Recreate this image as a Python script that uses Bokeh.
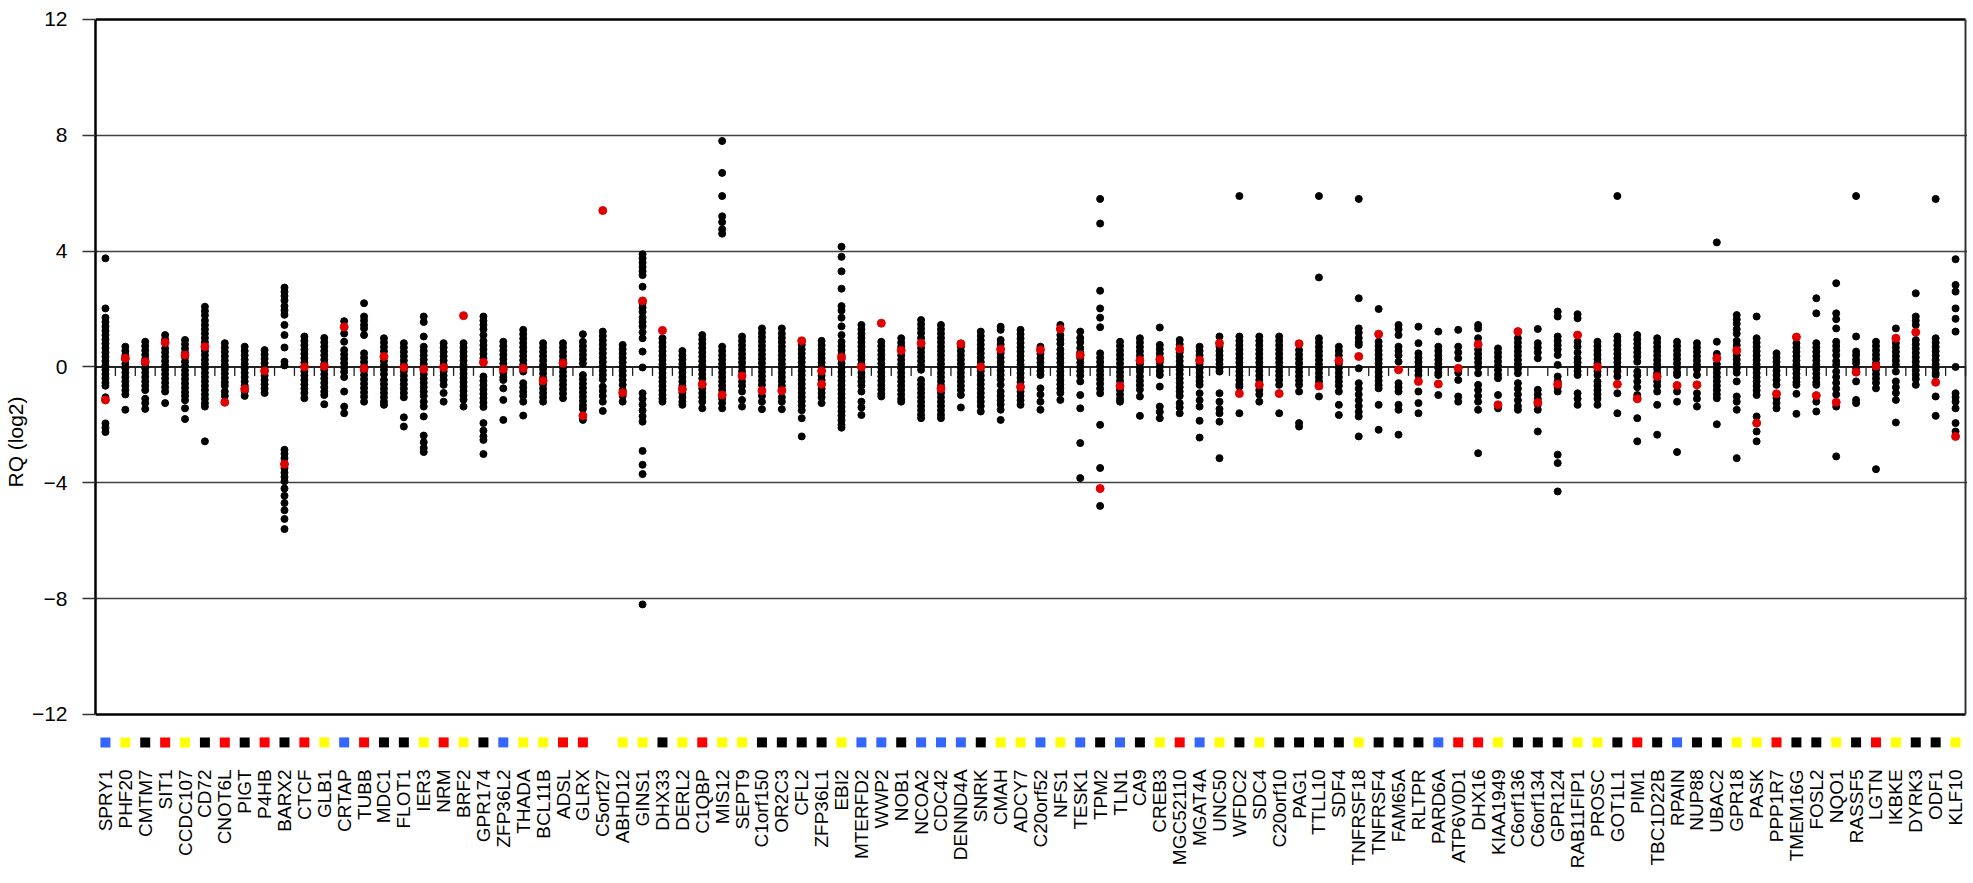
import math
from bokeh.plotting import figure
from bokeh.models import Range1d, FixedTicker
from bokeh.core.properties import value
from bokeh.embed import file_html
from bokeh.resources import INLINE

genes = ["SPRY1", "PHF20", "CMTM7", "SIT1", "CCDC107", "CD72", "CNOT6L", "PIGT", "P4HB", "BARX2",
         "CTCF", "GLB1", "CRTAP", "TUBB", "MDC1", "FLOT1", "IER3", "NRM", "BRF2", "GPR174",
         "ZFP36L2", "THADA", "BCL11B", "ADSL", "GLRX", "C5orf27", "ABHD12", "GINS1", "DHX33", "DERL2",
         "C1QBP", "MIS12", "SEPT9", "C1orf150", "OR2C3", "CFL2", "ZFP36L1", "EBI2", "MTERFD2", "WWP2",
         "NOB1", "NCOA2", "CDC42", "DENND4A", "SNRK", "CMAH", "ADCY7", "C20orf52", "NFS1", "TESK1",
         "TPM2", "TLN1", "CA9", "CREB3", "MGC52110", "MGAT4A", "UNC50", "WFDC2", "SDC4", "C20orf10",
         "PAG1", "TTLL10", "SDF4", "TNFRSF18", "TNFRSF4", "FAM65A", "RLTPR", "PARD6A", "ATP6V0D1", "DHX16",
         "KIAA1949", "C6orf136", "C6orf134", "GPR124", "RAB11FIP1", "PROSC", "GOT1L1", "PIM1", "TBC1D22B", "RPAIN",
         "NUP88", "UBAC2", "GPR18", "PASK", "PPP1R7", "TMEM16G", "FOSL2", "NQO1", "RASSF5", "LGTN",
         "IKBKE", "DYRK3", "ODF1", "KLF10"]

group = ["blue", "yellow", "black", "red", "yellow", "black", "red", "black", "red", "black",
         "red", "yellow", "blue", "red", "black", "black", "yellow", "red", "yellow", "black",
         "blue", "yellow", "yellow", "red", "red", None, "yellow", "yellow", "black", "yellow",
         "red", "yellow", "yellow", "black", "black", "black", "black", "yellow", "blue", "blue",
         "black", "blue", "blue", "blue", "black", "yellow", "yellow", "blue", "yellow", "blue",
         "black", "blue", "black", "yellow", "red", "blue", "yellow", "black", "yellow", "black",
         "black", "black", "black", "yellow", "black", "black", "black", "blue", "red", "red",
         "yellow", "black", "black", "black", "yellow", "yellow", "black", "red", "black", "blue",
         "black", "black", "yellow", "yellow", "red", "black", "black", "yellow", "black", "red",
         "yellow", "black", "black", "yellow"]

# black dots: individual samples (RQ, log2)
samples = [
    [3.75, 2.02, 1.7, 1.55, 1.4, 1.25, 1.1, 0.95, 0.8, 0.65, 0.5, 0.35, 0.2, 0.05, -0.1, -0.25, -0.4, -0.55, -0.65, -1.05, -1.95, -2.1, -2.25],
    [0.7, 0.55, 0.4, 0.25, 0.1, -0.05, -0.2, -0.35, -0.5, -0.65, -0.8, -0.95, -1.48],
    [0.87, 0.72, 0.57, 0.42, 0.27, 0.1, -0.05, -0.2, -0.35, -0.5, -0.65, -0.8, -1.1, -1.25, -1.45],
    [1.1, 0.95, 0.64, 0.5, 0.35, 0.2, 0.05, -0.1, -0.25, -0.4, -0.55, -0.7, -0.85, -1.25],
    [0.93, 0.78, 0.63, 0.48, 0.33, 0.18, 0.03, -0.12, -0.27, -0.42, -0.57, -0.72, -0.87, -1.0, -1.15, -1.43, -1.8],
    [2.08, 1.93, 1.78, 1.6, 1.45, 1.3, 1.15, 1.0, 0.85, 0.55, 0.4, 0.25, 0.1, -0.05, -0.2, -0.35, -0.5, -0.65, -0.8, -0.95, -1.1, -1.25, -1.37, -2.57],
    [0.82, 0.67, 0.52, 0.37, 0.22, 0.07, -0.08, -0.23, -0.38, -0.53, -0.65, -0.85, -1.0],
    [0.7, 0.55, 0.4, 0.25, 0.1, -0.05, -0.2, -0.35, -0.5, -0.65, -0.85, -1.0],
    [0.58, 0.43, 0.28, 0.13, -0.02, -0.3, -0.45, -0.6, -0.75, -0.9],
    [2.74, 2.6, 2.45, 2.3, 2.1, 1.95, 1.8, 1.45, 1.1, 0.67, 0.18, 0.05, -2.86, -3.0, -3.15, -3.5, -3.65, -3.8, -3.95, -4.2, -4.45, -4.7, -4.95, -5.25, -5.6],
    [1.05, 0.9, 0.75, 0.6, 0.45, 0.3, 0.15, -0.15, -0.3, -0.45, -0.6, -0.75, -0.9, -1.08],
    [1.0, 0.85, 0.7, 0.55, 0.4, 0.25, 0.1, -0.1, -0.25, -0.4, -0.55, -0.7, -0.85, -0.97, -1.29],
    [1.58, 1.15, 0.87, 0.58, 0.43, 0.28, 0.13, -0.02, -0.17, -0.35, -0.85, -1.37, -1.6],
    [2.2, 1.74, 1.6, 1.45, 1.33, 1.1, 0.47, 0.32, 0.17, 0.02, -0.13, -0.28, -0.43, -0.58, -0.73, -0.88, -1.03, -1.2],
    [0.99, 0.84, 0.69, 0.54, 0.2, 0.05, -0.1, -0.25, -0.45, -0.6, -0.75, -0.9, -1.05, -1.2, -1.31],
    [0.82, 0.67, 0.52, 0.37, 0.22, 0.07, -0.15, -0.3, -0.45, -0.6, -0.75, -0.9, -1.05, -1.74, -2.06],
    [1.74, 1.55, 1.05, 0.7, 0.55, 0.4, 0.25, 0.1, -0.25, -0.4, -0.55, -0.7, -0.85, -1.0, -1.2, -1.37, -1.71, -2.37, -2.6, -2.8, -2.94],
    [0.82, 0.67, 0.52, 0.37, 0.22, 0.07, -0.15, -0.3, -0.45, -0.62, -0.9, -1.2],
    [0.82, 0.67, 0.52, 0.37, 0.22, 0.07, -0.08, -0.23, -0.38, -0.53, -0.68, -0.83, -0.98, -1.13, -1.37],
    [1.74, 1.6, 1.45, 1.3, 1.1, 0.9, 0.75, 0.6, 0.45, 0.3, -0.33, -0.48, -0.63, -0.78, -0.93, -1.08, -1.23, -1.38, -1.94, -2.2, -2.4, -2.52, -3.01],
    [0.87, 0.72, 0.57, 0.42, 0.27, 0.12, -0.2, -0.35, -0.45, -0.74, -1.14, -1.83],
    [1.28, 1.13, 0.98, 0.83, 0.68, 0.53, 0.38, 0.23, 0.08, -0.16, -0.56, -0.71, -0.86, -1.0, -1.2, -1.68],
    [0.82, 0.67, 0.52, 0.37, 0.22, 0.07, -0.08, -0.23, -0.38, -0.6, -0.75, -0.9, -1.05, -1.2],
    [0.82, 0.67, 0.52, 0.37, 0.22, -0.02, -0.17, -0.32, -0.47, -0.62, -0.77, -0.92, -1.08],
    [1.13, 0.87, 0.72, 0.57, 0.42, 0.27, 0.12, -0.28, -0.43, -0.58, -0.73, -0.88, -1.03, -1.18, -1.33, -1.45, -1.83],
    [1.22, 1.07, 0.92, 0.77, 0.62, 0.47, 0.32, 0.17, 0.02, -0.13, -0.28, -0.43, -0.68, -0.83, -1.0, -1.2, -1.52],
    [0.76, 0.61, 0.46, 0.31, 0.16, 0.01, -0.14, -0.29, -0.45, -0.62, -0.8, -1.0, -1.2],
    [3.89, 3.75, 3.6, 3.45, 3.3, 3.17, 2.77, 2.2, 2.05, 1.9, 1.7, 1.55, 1.4, 1.2, 0.99, 0.53, -0.02, -0.91, -1.1, -1.3, -1.5, -1.7, -1.89, -2.9, -3.38, -3.7, -8.2],
    [0.99, 0.84, 0.69, 0.54, 0.39, 0.24, 0.09, -0.06, -0.21, -0.36, -0.51, -0.66, -0.81, -0.96, -1.1, -1.2],
    [0.55, 0.4, 0.25, 0.1, -0.05, -0.2, -0.35, -0.5, -0.65, -0.9, -1.05, -1.2, -1.31],
    [1.1, 0.95, 0.8, 0.65, 0.5, 0.35, 0.2, 0.05, -0.1, -0.25, -0.4, -0.75, -0.9, -1.05, -1.2, -1.43],
    [7.8, 6.7, 5.9, 5.2, 5.0, 4.75, 4.6, 0.7, 0.55, 0.4, 0.25, 0.1, -0.05, -0.2, -0.35, -0.5, -0.65, -0.8, -1.1, -1.25, -1.43],
    [1.05, 0.9, 0.75, 0.6, 0.45, 0.3, 0.15, 0.0, -0.15, -0.5, -0.65, -0.85, -1.14, -1.37],
    [1.33, 1.18, 1.03, 0.88, 0.73, 0.58, 0.43, 0.28, 0.13, -0.02, -0.17, -0.32, -0.47, -0.62, -1.0, -1.2, -1.46],
    [1.33, 1.15, 1.0, 0.85, 0.7, 0.55, 0.4, 0.25, 0.1, -0.05, -0.2, -0.35, -0.5, -0.65, -0.8, -1.05, -1.2, -1.46],
    [0.76, 0.61, 0.46, 0.31, 0.16, 0.01, -0.14, -0.29, -0.44, -0.59, -0.74, -0.89, -1.04, -1.19, -1.34, -1.5, -1.77, -2.4],
    [0.9, 0.75, 0.6, 0.45, 0.3, 0.15, 0.0, -0.3, -0.45, -0.75, -0.9, -1.05, -1.25],
    [4.15, 3.8, 3.3, 2.7, 2.1, 1.95, 1.7, 1.4, 1.1, 0.87, 0.72, 0.57, 0.42, 0.27, 0.12, -0.03, -0.18, -0.33, -0.48, -0.63, -0.78, -0.93, -1.08, -1.23, -1.38, -1.53, -1.68, -1.85, -2.0, -2.1],
    [1.45, 1.3, 1.15, 1.0, 0.85, 0.7, 0.55, 0.4, 0.25, 0.1, -0.2, -0.35, -0.5, -0.65, -0.85, -1.2, -1.4, -1.66],
    [0.87, 0.72, 0.57, 0.42, 0.27, 0.12, -0.03, -0.18, -0.33, -0.48, -0.63, -0.78, -0.93, -1.02],
    [0.99, 0.84, 0.7, 0.4, 0.25, 0.1, -0.05, -0.2, -0.35, -0.5, -0.65, -0.8, -0.95, -1.1, -1.2],
    [1.62, 1.47, 1.32, 1.17, 1.0, 0.65, 0.5, 0.35, 0.2, 0.05, -0.1, -0.45, -0.6, -0.75, -0.9, -1.05, -1.2, -1.35, -1.5, -1.65, -1.77],
    [1.45, 1.3, 1.15, 1.0, 0.85, 0.7, 0.55, 0.4, 0.25, 0.1, -0.05, -0.2, -0.35, -0.5, -0.65, -0.9, -1.05, -1.2, -1.35, -1.5, -1.65, -1.77],
    [0.7, 0.55, 0.4, 0.25, 0.1, -0.05, -0.2, -0.35, -0.5, -0.65, -0.8, -0.97, -1.4],
    [1.22, 1.07, 0.92, 0.77, 0.62, 0.47, 0.32, 0.17, -0.15, -0.3, -0.45, -0.6, -0.75, -0.9, -1.05, -1.2, -1.35, -1.54],
    [1.39, 1.28, 0.93, 0.78, 0.47, 0.32, 0.17, 0.02, -0.13, -0.28, -0.43, -0.62, -0.85, -1.0, -1.15, -1.3, -1.48, -1.83],
    [1.28, 1.13, 0.98, 0.83, 0.68, 0.53, 0.38, 0.23, 0.08, -0.07, -0.22, -0.37, -0.52, -0.85, -1.0, -1.15, -1.31],
    [0.7, 0.45, 0.3, 0.15, 0.0, -0.15, -0.28, -0.74, -0.95, -1.2, -1.48],
    [1.45, 1.1, 0.95, 0.8, 0.6, 0.45, 0.3, 0.15, 0.0, -0.15, -0.3, -0.45, -0.6, -0.75, -0.9, -1.14],
    [1.22, 1.0, 0.85, 0.65, 0.5, 0.3, 0.15, 0.0, -0.15, -0.3, -0.5, -0.97, -1.43, -2.63, -3.84],
    [5.8, 4.95, 2.63, 2.02, 1.7, 1.37, 0.47, 0.32, 0.17, 0.02, -0.13, -0.28, -0.43, -0.58, -0.75, -0.91, -2.0, -3.49, -4.8],
    [0.87, 0.72, 0.57, 0.42, 0.27, 0.12, -0.03, -0.18, -0.33, -0.48, -0.8, -0.95, -1.1, -1.2],
    [0.99, 0.84, 0.69, 0.54, 0.39, 0.1, -0.05, -0.16, -0.33, -0.48, -0.63, -0.78, -1.02, -1.69],
    [1.36, 0.76, 0.61, 0.46, 0.31, 0.16, 0.01, -0.14, -0.28, -0.68, -1.37, -1.55, -1.77],
    [0.93, 0.78, 0.5, 0.35, 0.2, 0.05, -0.1, -0.25, -0.4, -0.55, -0.7, -0.85, -1.0, -1.25, -1.4, -1.6],
    [0.7, 0.55, 0.4, 0.1, -0.05, -0.2, -0.35, -0.5, -0.62, -0.91, -1.15, -1.37, -1.86, -2.44],
    [1.05, 0.7, 0.55, 0.4, 0.25, 0.1, -0.05, -0.16, -0.91, -1.2, -1.45, -1.6, -1.89, -3.15],
    [5.9, 1.05, 0.9, 0.75, 0.6, 0.45, 0.3, 0.15, 0.0, -0.15, -0.3, -0.45, -0.6, -0.68, -1.6],
    [1.05, 0.9, 0.75, 0.6, 0.45, 0.3, 0.15, 0.0, -0.15, -0.3, -0.45, -0.8, -0.95, -1.2],
    [1.05, 0.9, 0.75, 0.6, 0.45, 0.3, 0.15, 0.0, -0.15, -0.3, -0.45, -0.62, -1.6],
    [0.58, 0.43, 0.28, 0.13, -0.02, -0.17, -0.32, -0.47, -0.62, -0.85, -1.94, -2.06],
    [5.9, 3.09, 0.99, 0.84, 0.69, 0.54, 0.39, 0.24, 0.09, -0.06, -0.21, -0.36, -0.5, -1.02],
    [0.7, 0.55, 0.4, 0.1, -0.05, -0.2, -0.35, -0.5, -0.65, -0.85, -1.31, -1.66],
    [5.8, 2.37, 1.33, 1.18, 1.0, 0.85, 0.76, -0.05, -0.56, -0.75, -0.95, -1.15, -1.35, -1.55, -1.71, -2.4],
    [2.0, 0.87, 0.72, 0.57, 0.42, 0.27, 0.12, -0.03, -0.18, -0.33, -0.48, -0.63, -0.74, -1.31, -2.17],
    [1.45, 1.3, 1.1, 0.7, 0.55, 0.4, 0.18, -0.56, -0.7, -0.85, -1.31, -1.48, -2.34],
    [1.39, 0.82, 0.47, 0.32, 0.17, 0.02, -0.13, -0.28, -0.85, -1.25, -1.6],
    [1.22, 0.7, 0.55, 0.4, 0.25, 0.1, -0.05, -0.2, -0.28, -0.97],
    [1.28, 0.7, 0.5, 0.3, -0.2, -0.45, -1.02, -1.2],
    [1.45, 1.33, 0.99, 0.6, 0.45, 0.3, 0.15, 0.0, -0.22, -0.62, -0.8, -1.0, -1.2, -1.48, -2.98],
    [0.64, 0.49, 0.34, 0.19, 0.04, -0.11, -0.26, -0.39, -0.97, -1.43],
    [0.99, 0.84, 0.69, 0.54, 0.39, 0.24, 0.09, -0.06, -0.22, -0.56, -0.75, -0.95, -1.15, -1.35, -1.48],
    [1.31, 0.82, 0.67, 0.5, 0.3, -0.79, -0.95, -1.1, -1.3, -1.48, -2.23],
    [1.91, 1.74, 1.05, 0.9, 0.75, 0.6, 0.41, 0.07, -0.33, -0.5, -0.7, -0.85, -3.03, -3.32, -4.3],
    [1.82, 1.68, 0.87, 0.7, 0.5, 0.3, 0.15, 0.0, -0.15, -0.28, -0.91, -1.1, -1.31],
    [0.87, 0.72, 0.57, 0.42, 0.27, 0.12, -0.15, -0.28, -0.5, -0.65, -0.8, -0.95, -1.1, -1.31],
    [5.9, 1.05, 0.9, 0.75, 0.6, 0.45, 0.3, 0.15, 0.0, -0.15, -0.33, -0.91, -1.6],
    [1.1, 0.95, 0.8, 0.65, 0.5, 0.35, 0.18, -0.16, -0.3, -0.5, -0.7, -0.97, -1.77, -2.57],
    [0.99, 0.84, 0.69, 0.54, 0.39, 0.24, 0.09, -0.06, -0.21, -0.5, -0.65, -0.85, -1.31, -2.34],
    [0.87, 0.72, 0.57, 0.42, 0.27, 0.12, -0.03, -0.18, -0.28, -0.85, -1.2, -2.94],
    [0.82, 0.67, 0.52, 0.37, 0.22, 0.07, -0.08, -0.28, -0.91, -1.1, -1.37],
    [4.3, 0.87, 0.45, 0.1, -0.05, -0.2, -0.35, -0.5, -0.65, -0.8, -0.95, -1.08, -1.98],
    [1.79, 1.64, 1.49, 1.3, 1.15, 0.9, 0.75, 0.4, 0.25, 0.1, -0.05, -0.2, -0.5, -1.02, -1.2, -1.48, -3.15],
    [1.74, 0.99, 0.84, 0.69, 0.54, 0.39, 0.24, 0.09, -0.06, -0.21, -0.36, -0.51, -0.66, -0.81, -0.97, -1.71, -2.23, -2.57],
    [0.47, 0.32, 0.17, 0.02, -0.13, -0.28, -0.45, -0.62, -1.08, -1.25, -1.43],
    [0.82, 0.67, 0.52, 0.37, 0.22, 0.07, -0.08, -0.23, -0.38, -0.53, -0.62, -0.93, -1.62],
    [2.37, 1.85, 0.82, 0.67, 0.52, 0.37, 0.22, 0.07, -0.08, -0.23, -0.38, -0.53, -0.62, -1.2, -1.54],
    [2.89, 1.85, 1.65, 1.33, 0.87, 0.72, 0.57, 0.4, 0.2, 0.07, -0.16, -0.35, -0.55, -0.75, -0.95, -1.37, -3.09],
    [5.9, 1.05, 0.53, 0.4, 0.25, 0.13, -0.05, -0.5, -1.14, -1.25],
    [0.87, 0.72, 0.57, 0.42, 0.27, 0.12, -0.1, -0.25, -0.4, -0.55, -0.74, -3.53],
    [1.33, 0.82, 0.67, 0.52, 0.37, 0.22, 0.07, -0.16, -0.5, -0.7, -0.9, -1.14, -1.92],
    [2.54, 1.74, 1.6, 1.45, 0.93, 0.78, 0.63, 0.48, 0.33, 0.18, 0.03, -0.12, -0.27, -0.42, -0.62],
    [5.8, 0.99, 0.84, 0.69, 0.54, 0.39, 0.24, 0.09, -0.06, -0.2, -0.28, -1.02, -1.69],
    [3.72, 2.83, 2.6, 2.02, 1.66, 1.22, 0.0, -0.91, -1.05, -1.2, -1.43, -1.94, -2.23],
]

# red dots: reference value(s) per gene (RQ, log2)
reference = [
    [-1.14], [0.3], [0.18], [0.84], [0.41], [0.7], [-1.22], [-0.76], [-0.14], [-3.36],
    [0.0], [0.02], [1.38], [-0.05], [0.36], [-0.02], [-0.08], [-0.02], [1.77], [0.16],
    [-0.08], [-0.05], [-0.48], [0.13], [-1.69], [5.4], [-0.89], [2.28], [1.26], [-0.77],
    [-0.6], [-0.97], [-0.31], [-0.82], [-0.82], [0.9], [-0.14, -0.6], [0.33], [0.0], [1.51],
    [0.57], [0.82], [-0.75], [0.8], [0.0], [0.61], [-0.69], [0.59], [1.31], [0.41],
    [-4.2], [-0.66], [0.23], [0.26], [0.62], [0.23], [0.82], [-0.92], [-0.62], [-0.92],
    [0.8], [-0.66], [0.21], [0.36], [1.13], [-0.1], [-0.5], [-0.59], [-0.05], [0.78],
    [-1.31], [1.22], [-1.23], [-0.6], [1.1], [0.0], [-0.6], [-1.1], [-0.33], [-0.64],
    [-0.62], [0.3], [0.57], [-1.94], [-0.93], [1.03], [-0.99], [-1.22], [-0.18], [0.03],
    [0.99], [1.2], [-0.53], [-2.4],
]

y_ticks = [-12, -8, -4, 0, 4, 8, 12]
grid_ticks = [-8, -4, 4, 8]

GROUP_COLORS = {"blue": "#3366FF", "yellow": "#FFFF00", "black": "#000000", "red": "#FF0000"}
FONT = "Liberation Sans"

pos = list(range(1, len(genes) + 1))
bx, by, rx, ry = [], [], [], []
for xp, vals, refs in zip(pos, samples, reference):
    for v in vals:
        bx.append(xp)
        by.append(v)
    for v in refs:
        rx.append(xp)
        ry.append(v)

sq_x = [xp for xp, g in zip(pos, group) if g]
sq_c = [GROUP_COLORS[g] for g in group if g]

PX = 28.96            # pixels per log2 unit
frame_h = 851
y_top = 12.1
y_bottom = y_top - frame_h / PX
square_y = 12 - 723 / PX
label_y = 12 - 750 / PX

p = figure(frame_width=1872, frame_height=frame_h,
           x_range=Range1d(0.5, 94.6), y_range=Range1d(y_bottom, y_top),
           x_axis_location=None,
           output_backend="svg", toolbar_location=None,
           min_border_top=16, min_border_left=83, min_border_right=0, min_border_bottom=0)
p.outline_line_color = None
p.background_fill_color = "white"

# grid
p.xgrid.visible = False
p.ygrid.ticker = FixedTicker(ticks=grid_ticks)
p.ygrid.grid_line_color = "#404040"
p.ygrid.grid_line_width = 1.5

# frame lines
p.segment(x0=[0.5, 0.5], y0=[12, -12], x1=[94.5, 94.5], y1=[12, -12], line_color="black", line_width=2.5)
p.segment(x0=[94.5], y0=[-12], x1=[94.5], y1=[12], line_color="#333333", line_width=2)
# zero line with category boundary ticks
p.segment(x0=[0.5], y0=[0], x1=[94.5], y1=[0], line_color="#222222", line_width=2)
bnd = [k + 0.5 for k in range(len(genes) + 1)]
p.segment(x0=bnd, y0=[0] * len(bnd), x1=bnd, y1=[-9 / PX] * len(bnd), line_color="#222222", line_width=1.3)

# dots
p.scatter(bx, by, size=7, color="black")
p.scatter(rx, ry, size=8, color="#E00000")

# group squares under the frame
p.scatter(sq_x, [square_y] * len(sq_x), marker="square", size=10, color=sq_c, line_color=None)

# gene names (vertical, reading upward)
p.text(x=pos, y=[label_y] * len(pos), text=genes, angle=math.pi / 2,
       text_align="right", text_baseline="middle",
       text_font=value(FONT), text_font_size="19px", text_color="black")

# y axis
ya = p.yaxis[0]
ya.bounds = (-12, 12)
ya.ticker = FixedTicker(ticks=y_ticks)
ya.axis_line_width = 2.5
ya.axis_line_color = "black"
ya.major_tick_out = 13
ya.major_tick_in = 0
ya.major_tick_line_width = 1.5
ya.major_tick_line_color = "#333333"
ya.minor_tick_line_color = None
ya.major_label_text_font = FONT
ya.major_label_text_font_size = "21px"
ya.major_label_text_color = "black"
ya.major_label_standoff = 15
ya.axis_label = "RQ (log2)"
ya.axis_label_text_font = FONT
ya.axis_label_text_font_size = "21px"
ya.axis_label_text_font_style = "normal"
ya.axis_label_text_color = "black"
ya.axis_label_standoff = 2

open("out.html", "w").write(file_html(p, INLINE))
